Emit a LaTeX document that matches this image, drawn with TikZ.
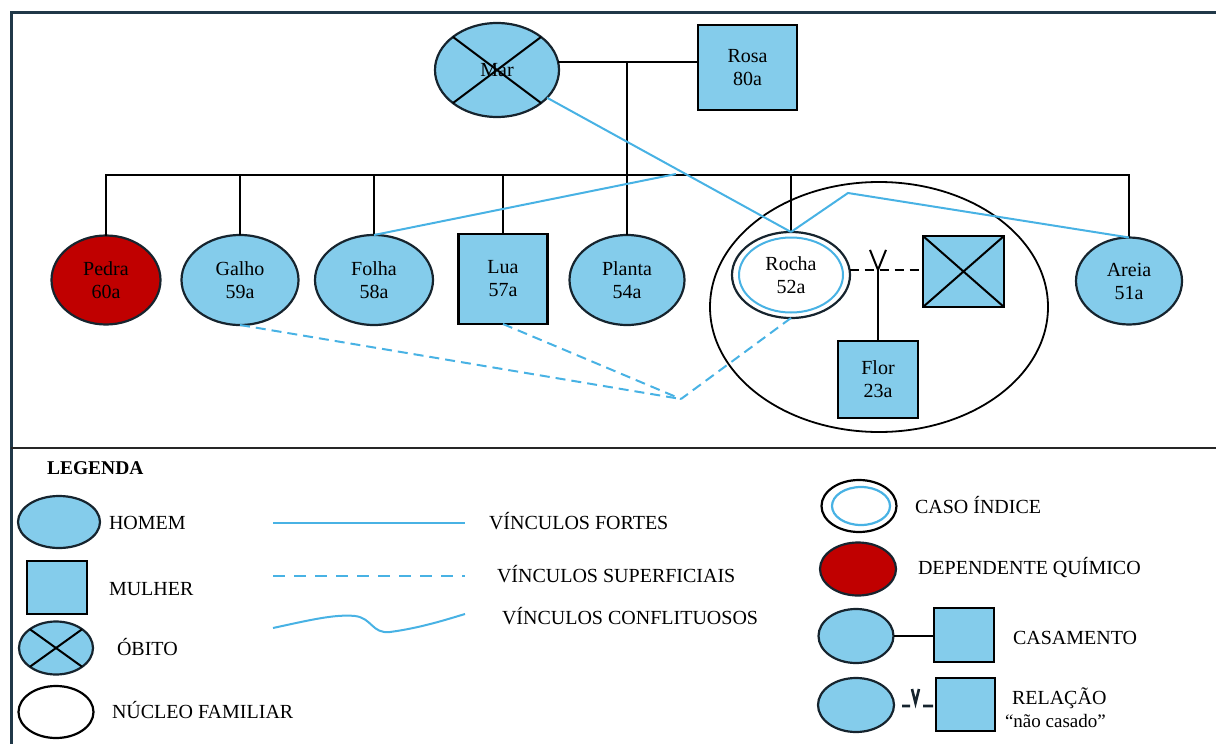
\documentclass[tikz,border=0pt]{standalone}
\usepackage{fontspec}
\setmainfont{Liberation Serif}
\usetikzlibrary{shapes.geometric,calc}
\definecolor{fillb}{RGB}{132,204,235}
\definecolor{tieb}{RGB}{72,178,228}
\definecolor{redd}{RGB}{192,0,0}
\definecolor{edgec}{RGB}{22,36,46}
\definecolor{framec}{RGB}{32,56,72}
\begin{document}
\begin{tikzpicture}[x=1pt,y=-1pt,
  every node/.style={font=\fontsize{20}{23}\selectfont, inner sep=0pt, outer sep=0pt, align=center},
  manshape/.style={ellipse, draw=edgec, line width=2.2pt, fill=fillb},
  womanshape/.style={rectangle, draw=black, line width=2.4pt, fill=fillb},
  famline/.style={draw=black, line width=2pt},
  strongtie/.style={draw=tieb, line width=2pt},
  weaktie/.style={draw=tieb, line width=2pt, dash pattern=on 10pt off 6pt},
  lbl/.style={anchor=base west},
]
\useasboundingbox (0,0) rectangle (1216,744);

% frame
\draw[framec, line width=3pt] (11,760) -- (11,12) -- (1230,12);
\draw[black!85, line width=2.4pt] (11,448) -- (1230,448);

% family nucleus
\node[ellipse, draw=black, line width=1.8pt, minimum width=338, minimum height=250] (nucleo) at (879,307) {};

% parents
\node[manshape, minimum width=124, minimum height=94] (mar) at (497,70) {Mar};
\draw[famline] ($(mar.center)+(-44,-33)$) -- ($(mar.center)+(44,33)$)
               ($(mar.center)+(44,-33)$) -- ($(mar.center)+(-44,33)$);
\node[womanshape, minimum width=99, minimum height=85] (rosa) at (747.5,67.5) {Rosa\\80a};

% children
\node[manshape, fill=redd, minimum width=109, minimum height=89] (pedra) at (106,280) {Pedra\\60a};
\node[manshape, minimum width=117, minimum height=90] (galho) at (240,280) {Galho\\59a};
\node[manshape, minimum width=118, minimum height=90] (folha) at (374,280) {Folha\\58a};
\node[womanshape, minimum width=89, minimum height=90] (lua) at (503,279) {Lua\\57a};
\node[manshape, minimum width=115, minimum height=90] (planta) at (627,280) {Planta\\54a};
\node[ellipse, draw=edgec, line width=2.2pt, fill=white, minimum width=118, minimum height=86] (rocha) at (791,275) {Rocha\\52a};
\draw[tieb, line width=2pt] (rocha.center) ellipse [x radius=52pt, y radius=37.5pt];
\node[manshape, minimum width=106, minimum height=87] (areia) at (1129,281) {Areia\\51a};

\node[womanshape, minimum width=81, minimum height=71] (parc) at (963.5,271.5) {};
\draw[famline] (parc.north west) -- (parc.south east) (parc.north east) -- (parc.south west);
\node[womanshape, minimum width=80, minimum height=77] (flor) at (878,379.5) {Flor\\23a};

% family lines
\coordinate (mid) at (planta.north |- mar.7);
\draw[famline] (mar.7) -- (mar.7 -| rosa.west);
\draw[famline] (mid) -- (planta.north);
\coordinate (bus) at (0,175);
\draw[famline] (pedra.north) -- (pedra.north |- bus) -- (areia.north |- bus) -- (areia.north);
\foreach \n in {galho,folha,lua,rocha} \draw[famline] (\n.north) -- (\n.north |- bus);

\coordinate (vj) at (flor.north |- rocha.5);
\draw[famline, dash pattern=on 9pt off 6pt] (rocha.5) -- (rocha.5 -| parc.west);
\draw[famline] (vj) -- (flor.north);
\draw[famline] ($(vj)+(-8,-20)$) -- (vj) -- ($(vj)+(8,-20)$);

% ties
\coordinate (fj) at (676,174);
\draw[strongtie] (folha.north) -- (fj);
\draw[strongtie] (mar.-29) -- (rocha.north);
\coordinate (bend) at (848,193);
\draw[strongtie] (rocha.north) -- (bend) -- (areia.north);
\coordinate (meet) at (681,399);
\draw[weaktie] (galho.south) -- (meet);
\draw[weaktie] (lua.south) -- (meet);
\draw[weaktie] (rocha.south) -- (meet);

% legend
\node[lbl, font=\bfseries\fontsize{19.5}{21}\selectfont] (legenda) at (47,474) {LEGENDA};

\node[manshape, minimum width=82, minimum height=52] (lh) at (59,522) {};
\node[lbl] (lht) at (109,529) {HOMEM};
\node[womanshape, minimum width=60, minimum height=53] (lm) at (57,587.5) {};
\node[lbl] (lmt) at (109,595) {MULHER};
\node[manshape, minimum width=74, minimum height=53] (lo) at (56,648) {};
\draw[famline] ($(lo.center)+(-26,-18.7)$) -- ($(lo.center)+(26,18.7)$)
               ($(lo.center)+(26,-18.7)$) -- ($(lo.center)+(-26,18.7)$);
\node[lbl] (lot) at (117,655) {ÓBITO};
\node[ellipse, draw=black, line width=2.2pt, minimum width=75, minimum height=52] (ln) at (56,712) {};
\node[lbl] (lnt) at (112,718) {NÚCLEO FAMILIAR};

\coordinate (s1a) at (273,523); \coordinate (s1b) at (465,523);
\draw[strongtie] (s1a) -- (s1b);
\node[lbl] (s1t) at (489,529) {VÍNCULOS FORTES};
\coordinate (s2a) at (273,576); \coordinate (s2b) at (465,576);
\draw[weaktie, dash pattern=on 12pt off 9pt] (s2a) -- (s2b);
\node[lbl] (s2t) at (497,582) {VÍNCULOS SUPERFICIAIS};
\coordinate (s3a) at (273,628); \coordinate (s3b) at (465,614);
\draw[strongtie] (s3a) .. controls (310,620) and (335,614) .. (355,616)
   .. controls (372,618) and (372,634) .. (390,632)
   .. controls (420,628) and (445,620) .. (s3b);
\node[lbl] (s3t) at (502,624) {VÍNCULOS CONFLITUOSOS};

\node[ellipse, draw=black, line width=2.2pt, minimum width=75, minimum height=52] (lc) at (859,506) {};
\draw[tieb, line width=2.2pt] (861,506) ellipse [x radius=29pt, y radius=19pt];
\node[lbl] (lct) at (915,513) {CASO ÍNDICE};
\node[manshape, fill=redd, minimum width=76, minimum height=53] (ld) at (858,569) {};
\node[lbl] (ldt) at (918,574) {DEPENDENTE QUÍMICO};
\node[manshape, minimum width=75, minimum height=54] (lca) at (856,636) {};
\node[womanshape, minimum width=60, minimum height=54] (lcb) at (964,635) {};
\draw[famline, line width=1.6pt] (lca.east) -- (lca.east -| lcb.west);
\node[lbl] (lcat) at (1013,644) {CASAMENTO};
\node[manshape, minimum width=76, minimum height=54] (lra) at (856,705) {};
\node[womanshape, minimum width=59, minimum height=53] (lrb) at (965.5,704.5) {};
\draw[edgec, line width=2.6pt] (902,706) -- (910,706) (912,689) -- (915.5,703) -- (919,689) (923,706) -- (933,706);
\node[lbl] (lrt) at (1012,704) {RELAÇÃO};
\node[lbl, font=\fontsize{19}{21}\selectfont] (lrt2) at (1005,727) {“não casado”};
\end{tikzpicture}
\end{document}
